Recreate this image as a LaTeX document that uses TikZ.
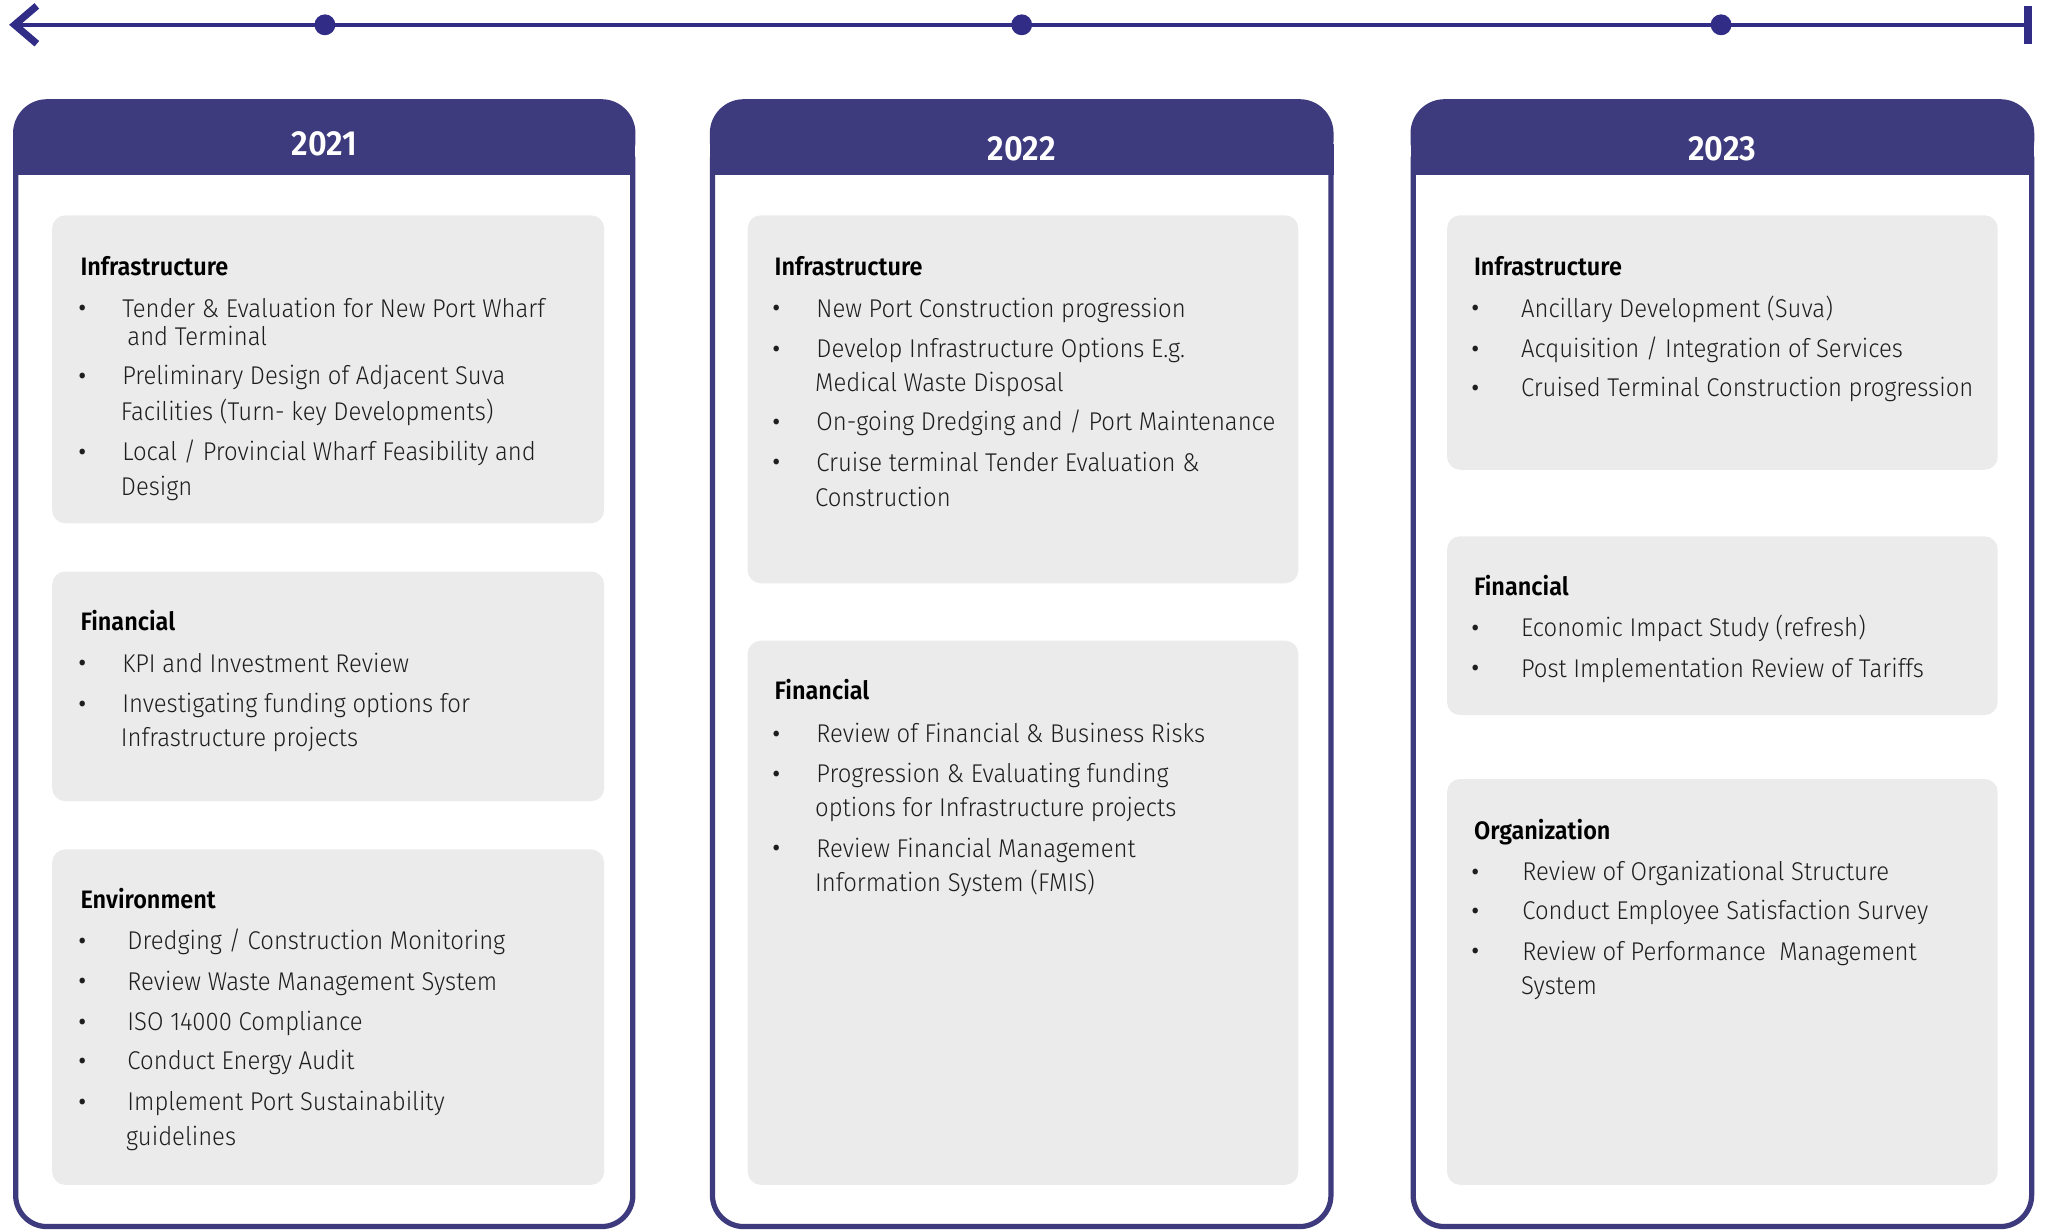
\documentclass[tikz,border=0pt]{standalone}
\usepackage{fontspec}
\setmainfont{Fira Sans Light}[BoldFont={Fira Sans SemiBold}, FakeStretch=0.93]
\usetikzlibrary{arrows.meta, positioning}

\definecolor{portnavy}{RGB}{61, 58, 125}
\definecolor{lineblue}{RGB}{49, 44, 134}
\definecolor{cardgrey}{RGB}{235, 235, 235}
\definecolor{inktext}{RGB}{30, 30, 30}

\tikzset{
  frame/.style={draw=portnavy, line width=0.4mm, rounded corners=2.4mm},
  headbar/.style={fill=portnavy, rounded corners=2.6mm},
  year/.style={text=white, inner sep=0pt, font=\bfseries\fontsize{7.6pt}{9pt}\selectfont},
  card/.style={fill=cardgrey, rounded corners=1mm},
  cardtitle/.style={anchor=base west, inner sep=0pt, yshift=-0.2mm, text=black, font=\bfseries\fontsize{5.5pt}{7pt}\selectfont},
  itemtext/.style={anchor=base west, inner sep=0pt, yshift=-0.2mm, text=inktext, font=\fontsize{5.6pt}{7pt}\selectfont},
  bulletdot/.style={anchor=base, inner sep=0pt, yshift=-0.55mm, text=inktext, font=\fontsize{8.5pt}{9pt}\selectfont},
  milestone/.style={circle, fill=lineblue, minimum size=1.6mm, inner sep=0pt},
}

\begin{document}
\begin{tikzpicture}[x=0.1mm, y=-0.1mm]
  \useasboundingbox (0,0) rectangle (1568,942);

  % Timeline
  \coordinate (tl-start) at (7,19);
  \coordinate (tl-end) at (1557,19);
  \draw[lineblue, line width=0.35mm, {Straight Barb[length=1.7mm, width=2.9mm, line width=0.55mm]}-{Bar[width=2.9mm, line width=0.6mm]}] (tl-start) -- (tl-end);
  \node[milestone] (m2021) at (249,19) {};
  \node[milestone] (m2022) at (783,19) {};
  \node[milestone] (m2023) at (1319,19) {};

  % Year columns
  \foreach \l/\r/\yr/\ty in {12/485/2021/110, 546/1020/2022/114, 1083/1557/2023/114} {
    \fill[headbar] (\l-2,76) rectangle (\r+2,134);
    \fill[portnavy] (\l-2,110) rectangle (\r+2,134);
    \draw[frame] (\l,120) -- (\l,940) -- (\r,940) -- (\r,120);
    \node[year] (year\yr) at ({(\l+\r)/2},\ty) {\yr};
  }

  % Cards
  \path[card] (40,165) rectangle (463,401);
  \path[card] (40,438) rectangle (463,614);
  \path[card] (40,651) rectangle (463,908);
  \path[card] (573,165) rectangle (995,447);
  \path[card] (573,491) rectangle (995,908);
  \path[card] (1109,165) rectangle (1531,360);
  \path[card] (1109,411) rectangle (1531,548);
  \path[card] (1109,597) rectangle (1531,908);

  % 2021
  \node[cardtitle] (c1-infra) at (61,209) {Infrastructure};
  \foreach \y in {241,293,351}
    \node[bulletdot] (c1-infra-b\y) at (63,\y) {•};
  \foreach \x/\y/\txt in {93/241/{Tender \& Evaluation for New Port Wharf},
      97/263/{and Terminal},
      93/293/{Preliminary Design of Adjacent Suva},
      92/320/{Facilities (Turn- key Developments)},
      93/351/{Local / Provincial Wharf Feasibility and},
      92/378/{Design}}
    \node[itemtext] (c1-infra-\y) at (\x,\y) {\txt};

  \node[cardtitle] (c1-fin) at (61,481) {Financial};
  \foreach \y in {513,544}
    \node[bulletdot] (c1-fin-b\y) at (63,\y) {•};
  \foreach \x/\y/\txt in {93/513/{KPI and Investment Review},
      93/544/{Investigating funding options for},
      92/570/{Infrastructure projects}}
    \node[itemtext] (c1-fin-\y) at (\x,\y) {\txt};

  \node[cardtitle] (c1-env) at (61,694) {Environment};
  \foreach \y in {726,757,788,818,849}
    \node[bulletdot] (c1-env-b\y) at (63,\y) {•};
  \foreach \x/\y/\txt in {97/726/{Dredging / Construction Monitoring},
      97/757/{Review Waste Management System},
      97/788/{ISO 14000 Compliance},
      97/818/{Conduct Energy Audit},
      97/849/{Implement Port Sustainability},
      96/876/{guidelines}}
    \node[itemtext] (c1-env-\y) at (\x,\y) {\txt};

  % 2022
  \node[cardtitle] (c2-infra) at (593,209) {Infrastructure};
  \foreach \y in {241,272,328,359}
    \node[bulletdot] (c2-infra-b\y) at (595,\y) {•};
  \foreach \x/\y/\txt in {625/241/{New Port Construction progression},
      625/272/{Develop Infrastructure Options E.g.},
      624/298/{Medical Waste Disposal},
      625/328/{On-going Dredging and / Port Maintenance},
      625/359/{Cruise terminal Tender Evaluation \&},
      624/386/{Construction}}
    \node[itemtext] (c2-infra-\y) at (\x,\y) {\txt};

  \node[cardtitle] (c2-fin) at (593,534) {Financial};
  \foreach \y in {567,598,655}
    \node[bulletdot] (c2-fin-b\y) at (595,\y) {•};
  \foreach \x/\y/\txt in {625/567/{Review of Financial \& Business Risks},
      625/598/{Progression \& Evaluating funding},
      624/624/{options for Infrastructure projects},
      625/655/{Review Financial Management},
      624/681/{Information System (FMIS)}}
    \node[itemtext] (c2-fin-\y) at (\x,\y) {\txt};

  % 2023
  \node[cardtitle] (c3-infra) at (1129,209) {Infrastructure};
  \foreach \y in {241,272,302}
    \node[bulletdot] (c3-infra-b\y) at (1131,\y) {•};
  \foreach \x/\y/\txt in {1165/241/{Ancillary Development (Suva)},
      1165/272/{Acquisition / Integration of Services},
      1165/302/{Cruised Terminal Construction progression}}
    \node[itemtext] (c3-infra-\y) at (\x,\y) {\txt};

  \node[cardtitle] (c3-fin) at (1129,454) {Financial};
  \foreach \y in {486,517}
    \node[bulletdot] (c3-fin-b\y) at (1131,\y) {•};
  \foreach \x/\y/\txt in {1165/486/{Economic Impact Study (refresh)},
      1165/517/{Post Implementation Review of Tariffs}}
    \node[itemtext] (c3-fin-\y) at (\x,\y) {\txt};

  \node[cardtitle] (c3-org) at (1129,641) {Organization};
  \foreach \y in {673,703,734}
    \node[bulletdot] (c3-org-b\y) at (1131,\y) {•};
  \foreach \x/\y/\txt in {1166/673/{Review of Organizational Structure},
      1166/703/{Conduct Employee Satisfaction Survey},
      1166/734/{Review of Performance~ Management},
      1165/760/{System}}
    \node[itemtext] (c3-org-\y) at (\x,\y) {\txt};
\end{tikzpicture}
\end{document}
